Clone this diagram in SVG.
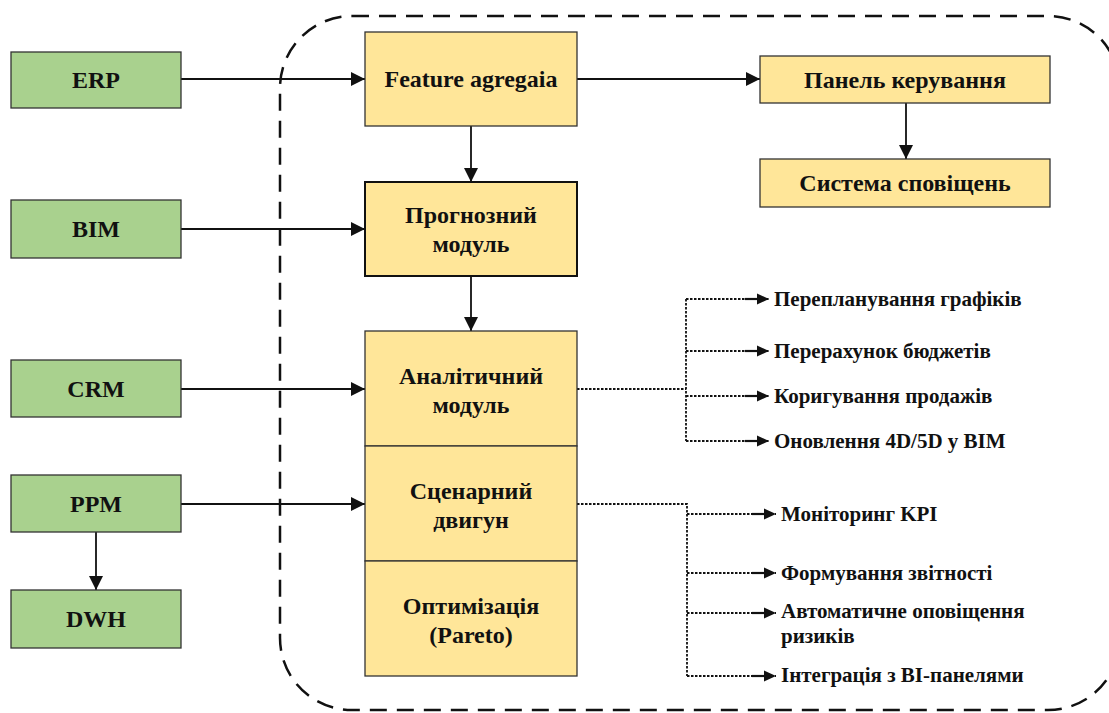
<svg xmlns="http://www.w3.org/2000/svg" width="1109" height="713" viewBox="0 0 1109 713">
  <defs>
    <style>
      .src { fill: #A9D18E; stroke: #333; stroke-width: 1.3; }
      .mod { fill: #FFE699; stroke: #333; stroke-width: 1.3; }
      .mod-strong { fill: #FFE699; stroke: #111; stroke-width: 2; }
      text { font-family: 'Liberation Serif', 'Times New Roman', Times, serif; font-weight: 700; fill: #111; }
      .lbl { font-size: 24px; text-anchor: middle; dominant-baseline: central; }
      .out { font-size: 21px; dominant-baseline: central; }
      .wire { stroke: #111; stroke-width: 1.8; fill: none; }
      .dot { stroke: #111; stroke-width: 1.8; fill: none; stroke-dasharray: 2.5 1.5; }
      .frame { stroke: #111; stroke-width: 2.5; fill: none; stroke-dasharray: 17 10; }
    </style>
    <marker id="arrow" viewBox="0 0 14 14" refX="14" refY="7" markerWidth="14" markerHeight="14" markerUnits="userSpaceOnUse" orient="auto">
      <path d="M0,0 L14,7 L0,14 Z" fill="#111"/>
    </marker>
    <marker id="arrow-sm" viewBox="0 0 24 12" refX="24" refY="6" markerWidth="24" markerHeight="12" markerUnits="userSpaceOnUse" orient="auto">
      <path d="M0,6 L13,6" stroke="#111" stroke-width="2.2"/>
      <path d="M12,0.5 L24,6 L12,11.5 Z" fill="#111"/>
    </marker>
  </defs>

  <!-- system boundary -->
  <rect class="frame" x="280" y="16" width="840" height="694" rx="72" ry="72"/>

  <!-- connectors -->
  <g id="connectors">
    <line class="wire" x1="181" y1="79" x2="365" y2="79" marker-end="url(#arrow)"/>
    <line class="wire" x1="181" y1="229" x2="365" y2="229" marker-end="url(#arrow)"/>
    <line class="wire" x1="181" y1="389" x2="365" y2="389" marker-end="url(#arrow)"/>
    <line class="wire" x1="181" y1="504" x2="365" y2="504" marker-end="url(#arrow)"/>
    <line class="wire" x1="96" y1="532" x2="96" y2="590" marker-end="url(#arrow)"/>
    <line class="wire" x1="577" y1="79" x2="760" y2="79" marker-end="url(#arrow)"/>
    <line class="wire" x1="471" y1="126" x2="471" y2="182" marker-end="url(#arrow)"/>
    <line class="wire" x1="471" y1="276" x2="471" y2="331" marker-end="url(#arrow)"/>
    <line class="wire" x1="906" y1="103" x2="906" y2="159" marker-end="url(#arrow)"/>

    <!-- analytics outputs -->
    <path class="dot" d="M577,389 H686"/>
    <path class="dot" d="M686,299 V441"/>
    <path class="dot" d="M686,299 H769" marker-end="url(#arrow-sm)"/>
    <path class="dot" d="M686,351 H769" marker-end="url(#arrow-sm)"/>
    <path class="dot" d="M686,396 H769" marker-end="url(#arrow-sm)"/>
    <path class="dot" d="M686,441 H769" marker-end="url(#arrow-sm)"/>

    <!-- scenario outputs -->
    <path class="dot" d="M577,504 H687 V676"/>
    <path class="dot" d="M687,514 H776" marker-end="url(#arrow-sm)"/>
    <path class="dot" d="M687,573 H776" marker-end="url(#arrow-sm)"/>
    <path class="dot" d="M687,613 H776" marker-end="url(#arrow-sm)"/>
    <path class="dot" d="M687,676 H776" marker-end="url(#arrow-sm)"/>
  </g>

  <!-- data sources -->
  <g id="erp"><rect class="src" x="11" y="52" width="170" height="56"/><text class="lbl" x="96" y="80">ERP</text></g>
  <g id="bim"><rect class="src" x="11" y="200" width="170" height="58"/><text class="lbl" x="96" y="229">BIM</text></g>
  <g id="crm"><rect class="src" x="11" y="360" width="170" height="57"/><text class="lbl" x="96" y="389">CRM</text></g>
  <g id="ppm"><rect class="src" x="11" y="475" width="170" height="57"/><text class="lbl" x="96" y="504">PPM</text></g>
  <g id="dwh"><rect class="src" x="11" y="590" width="170" height="58"/><text class="lbl" x="96" y="619">DWH</text></g>

  <!-- core modules -->
  <g id="feature-agg"><rect class="mod" x="365" y="32" width="212" height="94"/><text class="lbl" x="471" y="79">Feature agregaia</text></g>
  <g id="forecast"><rect class="mod-strong" x="365" y="182" width="212" height="94"/><text class="lbl" x="471" y="215">Прогнозний</text><text class="lbl" x="471" y="244">модуль</text></g>
  <g id="analytics"><rect class="mod" x="365" y="331" width="212" height="115"/><text class="lbl" x="471" y="376">Аналітичний</text><text class="lbl" x="471" y="405">модуль</text></g>
  <g id="scenario"><rect class="mod" x="365" y="446" width="212" height="115"/><text class="lbl" x="471" y="491">Сценарний</text><text class="lbl" x="471" y="520">двигун</text></g>
  <g id="optimization"><rect class="mod" x="365" y="561" width="212" height="115"/><text class="lbl" x="471" y="606">Оптимізація</text><text class="lbl" x="471" y="635">(Pareto)</text></g>

  <!-- presentation layer -->
  <g id="dashboard"><rect class="mod" x="760" y="56" width="290" height="47"/><text class="lbl" x="905" y="80">Панель керування</text></g>
  <g id="alerts"><rect class="mod" x="760" y="159" width="290" height="48"/><text class="lbl" x="905" y="183">Система сповіщень</text></g>

  <!-- action outputs -->
  <g id="out-schedule"><text class="out" x="774" y="299">Перепланування графіків</text></g>
  <g id="out-budget"><text class="out" x="774" y="351">Перерахунок бюджетів</text></g>
  <g id="out-sales"><text class="out" x="774" y="396">Коригування продажів</text></g>
  <g id="out-bim"><text class="out" x="774" y="441">Оновлення 4D/5D у BIM</text></g>
  <g id="out-kpi"><text class="out" x="781" y="514">Моніторинг KPI</text></g>
  <g id="out-report"><text class="out" x="781" y="573">Формування звітності</text></g>
  <g id="out-risk"><text class="out" x="781" y="611">Автоматичне оповіщення</text><text class="out" x="781" y="636">ризиків</text></g>
  <g id="out-bi"><text class="out" x="781" y="675">Інтеграція з BI-панелями</text></g>
</svg>
